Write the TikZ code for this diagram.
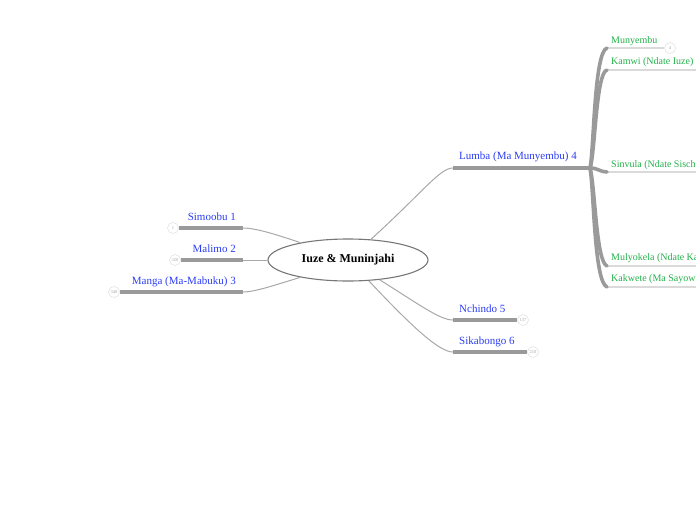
\documentclass[tikz,border=0pt]{standalone}
\usepackage{fontspec}
\setmainfont{Liberation Serif}
\usepackage{xcolor}
\usetikzlibrary{
  shapes.geometric,
  positioning
}
\definecolor{TopicBlue}{HTML}{2B3CF5}
\definecolor{SubGreen}{HTML}{22B04A}
\definecolor{BarGray}{HTML}{9A9A9A}
\definecolor{LinkGray}{HTML}{A8A8A8}
\definecolor{LineGray}{HTML}{DADADA}
\definecolor{RootGray}{HTML}{777777}
\tikzset{
  root/.style={
    ellipse,
    draw=RootGray,
    line width=1.1pt,
    fill=white,
    inner sep=0pt,
    minimum width=160pt,
    minimum height=42pt,
    font=\fontsize{12}{14}\selectfont\bfseries
  },
  topic/.style={
    text=TopicBlue,
    inner sep=0pt,
    font=\fontsize{11}{13}\selectfont
  },
  subtopic/.style={
    text=SubGreen,
    inner sep=0pt,
    anchor=west,
    font=\fontsize{10}{12}\selectfont
  },
  count/.style={
    circle,
    draw=LineGray,
    fill=white,
    inner sep=0pt,
    minimum size=11pt,
    text=gray!70,
    font=\fontsize{4.5}{5}\selectfont
  },
  bar/.style={
    draw=BarGray,
    line width=4.3pt
  },
  link/.style={
    draw=LinkGray,
    line width=1pt
  },
  underline/.style={
    draw=LineGray,
    line width=1.3pt
  },
  brace/.style={
    draw=BarGray,
    line width=3.6pt,
    line cap=round
  }
}

\begin{document}
\begin{tikzpicture}[x=1pt, y=-1pt]

  \useasboundingbox (0,0) rectangle (696,520);

  % central topic
  \node[root] (root) at (348,260) {Iuze \& Muninjahi};

  % left branches
  \node[topic, anchor=east] (simoobu) at (236,216.5) {Simoobu 1};
  \node[count] (simoobuN) at (173,228) {1};
  \coordinate (simoobuE) at (243,228);

  \node[topic, anchor=east] (malimo) at (236,248.5) {Malimo 2};
  \node[count] (malimoN) at (175,260) {328};
  \coordinate (malimoE) at (243,260);

  \node[topic, anchor=east] (manga) at (236,281.5) {Manga (Ma-Mabuku) 3};
  \node[count] (mangaN) at (114,292) {340};
  \coordinate (mangaE) at (243,292);

  % right branches
  \node[topic, anchor=west] (lumba) at (459,156.5) {Lumba (Ma Munyembu) 4};
  \coordinate (lumbaW) at (453,168);
  \coordinate (lumbaJ) at (590,168);

  \node[topic, anchor=west] (nchindo) at (459,308.5) {Nchindo 5};
  \coordinate (nchindoW) at (453,320);
  \node[count] (nchindoN) at (523,320) {137};

  \node[topic, anchor=west] (sikabongo) at (459,341.5) {Sikabongo 6};
  \coordinate (sikabongoW) at (453,352);
  \node[count] (sikabongoN) at (533,352) {210};

  % sub topics of Lumba
  \node[subtopic] (munyembu) at (611,41.5) {Munyembu};
  \coordinate (munyembuW) at (607,48);
  \node[count] (munyembuN) at (670,48) {4};

  \node[subtopic] (kamwi) at (611,62.5) {Kamwi (Ndate Iuze)};
  \coordinate (kamwiW) at (607,70);
  \coordinate (kamwiE) at (700,70);

  \node[subtopic] (sinvula) at (611,165.5) {Sinvula (Ndate Sische};
  \coordinate (sinvulaW) at (607,172);
  \coordinate (sinvulaE) at (700,172);

  \node[subtopic] (mulyokela) at (611,258.5) {Mulyokela (Ndate Ka};
  \coordinate (mulyokelaW) at (607,266);
  \coordinate (mulyokelaE) at (700,266);

  \node[subtopic] (kakwete) at (611,279.5) {Kakwete (Ma Sayowa};
  \coordinate (kakweteW) at (607,287);
  \coordinate (kakweteE) at (700,287);

  % links from the root
  \draw[link] (root.160) .. controls (275,234) and (255,228) .. (simoobuE);
  \draw[link] (root.west) -- (malimoE);
  \draw[link] (root.200) .. controls (275,285) and (255,292) .. (mangaE);
  \draw[link] (root.42) .. controls (425,190) and (440,168) .. (lumbaW);
  \draw[link] (root.-32) .. controls (420,305) and (440,320) .. (nchindoW);
  \draw[link] (root.-45) .. controls (415,330) and (440,352) .. (sikabongoW);

  % bars
  \draw[bar] (simoobuN) -- (simoobuE);
  \draw[bar] (malimoN) -- (malimoE);
  \draw[bar] (mangaN) -- (mangaE);
  \draw[bar] (lumbaW) -- (lumbaJ);
  \draw[bar] (nchindoW) -- (nchindoN);
  \draw[bar] (sikabongoW) -- (sikabongoN);

  % underlines of the sub topics
  \draw[underline] (munyembuW) -- (munyembuN);
  \draw[underline] (kamwiW) -- (kamwiE);
  \draw[underline] (sinvulaW) -- (sinvulaE);
  \draw[underline] (mulyokelaW) -- (mulyokelaE);
  \draw[underline] (kakweteW) -- (kakweteE);

  % fork of Lumba
  \draw[brace] (lumbaJ) .. controls (594,150) and (594,52) .. (munyembuW);
  \draw[brace] (lumbaJ) .. controls (595,155) and (596,72) .. (kamwiW);
  \draw[brace] (lumbaJ) .. controls (598,168) and (600,172) .. (sinvulaW);
  \draw[brace] (lumbaJ) .. controls (595,185) and (596,262) .. (mulyokelaW);
  \draw[brace] (lumbaJ) .. controls (594,190) and (594,282) .. (kakweteW);

\end{tikzpicture}
\end{document}
